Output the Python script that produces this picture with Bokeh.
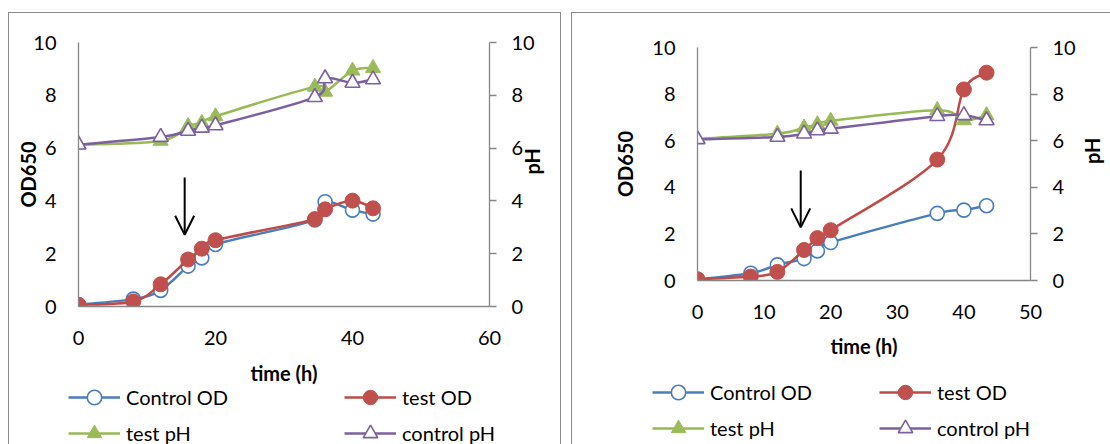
import math
from bokeh.plotting import figure
from bokeh.models import (Range1d, LinearAxis, FixedTicker, Legend, LegendItem,
                          Arrow, OpenHead)
from bokeh.layouts import row, column
from bokeh.embed import file_html
from bokeh.resources import INLINE

# ---------------- data: left panel ----------------
left_time_od = [0, 8, 12, 16, 18, 20, 34.5, 36, 40, 43]
left_control_od = [0.07, 0.28, 0.61, 1.53, 1.84, 2.35, 3.28, 3.97, 3.65, 3.50]
left_test_od = [0.06, 0.19, 0.84, 1.78, 2.19, 2.51, 3.31, 3.68, 4.01, 3.72]
left_time_ph = [0, 12, 16, 18, 20, 34.5, 36, 40, 43]
left_test_ph = [6.13, 6.27, 6.83, 6.95, 7.20, 8.32, 8.13, 8.93, 9.03]
left_control_ph = [6.13, 6.42, 6.65, 6.77, 6.86, 7.93, 8.64, 8.47, 8.60]
left_arrow_x = 15.5
left_arrow_y = [4.89, 2.72]
left_xticks = [0, 20, 40, 60]

# ---------------- data: right panel ----------------
right_time_od = [0, 8, 12, 16, 18, 20, 36, 40, 43.4]
right_control_od = [0.05, 0.31, 0.67, 0.94, 1.27, 1.63, 2.88, 3.02, 3.21]
right_test_od = [0.05, 0.17, 0.37, 1.31, 1.82, 2.16, 5.19, 8.20, 8.92]
right_time_ph = [0, 12, 16, 18, 20, 36, 40, 43.4]
right_test_ph = [6.08, 6.30, 6.56, 6.70, 6.85, 7.31, 6.87, 7.09]
right_control_ph = [6.06, 6.16, 6.30, 6.44, 6.51, 7.05, 7.09, 6.87]
right_arrow_x = 15.5
right_arrow_y = [4.72, 2.28]
right_xticks = [0, 10, 20, 30, 40, 50]

y_ticks = [0, 2, 4, 6, 8, 10]
series_labels = ["Control OD", "test OD", "test pH", "control pH"]

BLUE = "#4A7EBB"
RED = "#BE4B48"
RED_FILL = "#C0504D"
GREEN = "#98B954"
GREEN_FILL = "#9BBB59"
PURPLE = "#7D60A0"
AXIS = "#868686"
FONT = "Lato"
BORDER = "1px solid #8a8a8a"


def smooth(xs, ys):
    """Excel-like smoothed line: cubic Bezier segments through the data points."""
    n = len(xs)
    d = dict(x0=[], y0=[], x1=[], y1=[], cx0=[], cy0=[], cx1=[], cy1=[])
    for i in range(n - 1):
        xm, ym = (xs[i - 1], ys[i - 1]) if i > 0 else (xs[i], ys[i])
        xp, yp = (xs[i + 2], ys[i + 2]) if i + 2 < n else (xs[i + 1], ys[i + 1])
        d["x0"].append(xs[i]); d["y0"].append(ys[i])
        d["x1"].append(xs[i + 1]); d["y1"].append(ys[i + 1])
        d["cx0"].append(xs[i] + (xs[i + 1] - xm) / 6)
        d["cy0"].append(ys[i] + (ys[i + 1] - ym) / 6)
        d["cx1"].append(xs[i + 1] - (xp - xs[i]) / 6)
        d["cy1"].append(ys[i + 1] - (yp - ys[i]) / 6)
    return d


def add_series(p, t_od, c_od, te_od, t_ph, te_ph, c_ph, ph_range, visible=True):
    kw = dict(visible=visible)
    items = []
    b1 = p.bezier(line_color=BLUE, line_width=2.5, **kw, **smooth(t_od, c_od))
    s1 = p.scatter(t_od, c_od, marker="circle", size=14, fill_color="white",
                   line_color=BLUE, line_width=1.6, **kw)
    items.append(LegendItem(label=series_labels[0], renderers=[b1, s1]))
    b2 = p.bezier(line_color=RED, line_width=2.5, **kw, **smooth(t_od, te_od))
    s2 = p.scatter(t_od, te_od, marker="circle", size=15, fill_color=RED_FILL,
                   line_color=RED_FILL, line_width=1, **kw)
    items.append(LegendItem(label=series_labels[1], renderers=[b2, s2]))
    b3 = p.bezier(line_color=GREEN, line_width=2.5, y_range_name=ph_range, **kw,
                  **smooth(t_ph, te_ph))
    s3 = p.scatter(t_ph, te_ph, marker="triangle", size=15, fill_color=GREEN_FILL,
                   line_color=GREEN_FILL, line_width=1, y_range_name=ph_range, **kw)
    items.append(LegendItem(label=series_labels[2], renderers=[b3, s3]))
    b4 = p.bezier(line_color=PURPLE, line_width=2.5, y_range_name=ph_range, **kw,
                  **smooth(t_ph, c_ph))
    s4 = p.scatter(t_ph, c_ph, marker="triangle", size=15, fill_color="white",
                   line_color=PURPLE, line_width=1.6, y_range_name=ph_range, **kw)
    items.append(LegendItem(label=series_labels[3], renderers=[b4, s4]))
    return items


def chart(data, xmax, xticks, arrow_x, arrow_y,
          frame_w, frame_h, mb_left, mb_right, mb_top, mb_bottom,
          x_lab_standoff, x_axis_standoff, left_lab_standoff, right_lab_standoff,
          styles, margin):
    p = figure(title=None, frame_width=frame_w, frame_height=frame_h,
               x_range=Range1d(0, xmax), y_range=Range1d(0, 10),
               output_backend="svg", toolbar_location=None,
               min_border_left=mb_left, min_border_right=mb_right,
               min_border_top=mb_top, min_border_bottom=mb_bottom,
               styles=styles, margin=margin)
    try:
        p.frame_align = False
    except Exception:
        pass
    p.extra_y_ranges = {"ph": Range1d(0, 10)}
    p.outline_line_color = None
    p.grid.visible = False
    p.background_fill_color = "white"
    p.border_fill_color = "white"

    xa = p.xaxis[0]
    xa.ticker = FixedTicker(ticks=xticks)
    xa.axis_label = "time (h)"
    xa.major_tick_out = 0
    xa.major_tick_in = 0
    xa.minor_tick_out = 0
    xa.minor_tick_in = 0
    xa.major_label_standoff = x_lab_standoff
    xa.axis_label_standoff = x_axis_standoff

    ya = p.yaxis[0]
    ya.ticker = FixedTicker(ticks=y_ticks)
    ya.axis_label = "OD650"
    ya.major_tick_out = 0
    ya.major_tick_in = 0
    ya.minor_tick_out = 0
    ya.minor_tick_in = 0
    ya.major_label_standoff = 22
    ya.axis_label_standoff = left_lab_standoff

    ra = LinearAxis(y_range_name="ph", ticker=FixedTicker(ticks=y_ticks), axis_label="pH")
    ra.major_tick_out = 7
    ra.major_tick_in = 0
    ra.minor_tick_out = 0
    ra.minor_tick_in = 0
    ra.major_label_standoff = 15
    ra.axis_label_standoff = right_lab_standoff
    try:
        ra.axis_label_orientation = math.pi / 2
    except Exception:
        pass
    p.add_layout(ra, "right")

    for ax in (xa, ya, ra):
        ax.axis_line_color = AXIS
        ax.axis_line_width = 1.3
        ax.major_tick_line_color = AXIS
        ax.major_tick_line_width = 1.3
        ax.major_label_text_font = FONT
        ax.major_label_text_font_size = "20px"
        ax.major_label_text_color = "black"
        ax.axis_label_text_font = FONT
        ax.axis_label_text_font_size = "20px"
        ax.axis_label_text_font_style = "bold"
        ax.axis_label_text_color = "black"

    add_series(p, *data, "ph", visible=True)

    p.add_layout(Arrow(end=OpenHead(size=19, line_width=2, line_color="black"),
                       x_start=arrow_x, y_start=arrow_y[0],
                       x_end=arrow_x, y_end=arrow_y[1],
                       line_width=2, line_color="black"))
    return p


def legend_fig(data, width, height, loc, label_width, styles, margin):
    q = figure(title=None, frame_width=width, frame_height=height,
               x_range=Range1d(0, 1), y_range=Range1d(0, 1),
               x_axis_location=None, y_axis_location=None,
               output_backend="svg", toolbar_location=None, min_border=0,
               styles=styles, margin=margin)
    try:
        q.frame_align = False
    except Exception:
        pass
    q.extra_y_ranges = {"ph": Range1d(0, 10)}
    q.outline_line_color = None
    q.grid.visible = False
    q.background_fill_color = "white"
    q.border_fill_color = "white"
    items = add_series(q, *data, "ph", visible=False)
    leg = Legend(items=items, location=loc, orientation="horizontal", ncols=2,
                 glyph_width=52, glyph_height=36, label_standoff=6,
                 label_width=label_width, label_height=36, spacing=0,
                 padding=0, margin=0, border_line_alpha=0,
                 background_fill_alpha=0, inactive_fill_alpha=0,
                 label_text_font=FONT, label_text_font_size="20px",
                 label_text_color="black")
    q.add_layout(leg)
    return q


left_data = (left_time_od, left_control_od, left_test_od,
             left_time_ph, left_test_ph, left_control_ph)
right_data = (right_time_od, right_control_od, right_test_od,
              right_time_ph, right_test_ph, right_control_ph)

c_left = chart(left_data, 60, left_xticks, left_arrow_x, left_arrow_y,
               409, 263, 69, 73, 29, 81, 24, 13, -10, -6,
               {"border-left": BORDER, "border-top": BORDER, "border-right": BORDER},
               (12, 0, 0, 8))
l_left = legend_fig(left_data, 551, 58, (59, -7), 218,
                    {"border-left": BORDER, "border-right": BORDER},
                    (0, 0, 0, 8))
c_right = chart(right_data, 50, right_xticks, right_arrow_x, right_arrow_y,
                332, 232, 125, 81, 34, 81, 24, 12, 12, 13,
                {"border-left": BORDER, "border-top": BORDER},
                (12, 0, 0, 10))
l_right = legend_fig(right_data, 538, 84, (80, -2), 169,
                     {"border-left": BORDER},
                     (0, 0, 0, 10))

layout = row(column(c_left, l_left), column(c_right, l_right))
open("out.html", "w").write(file_html(layout, INLINE))
